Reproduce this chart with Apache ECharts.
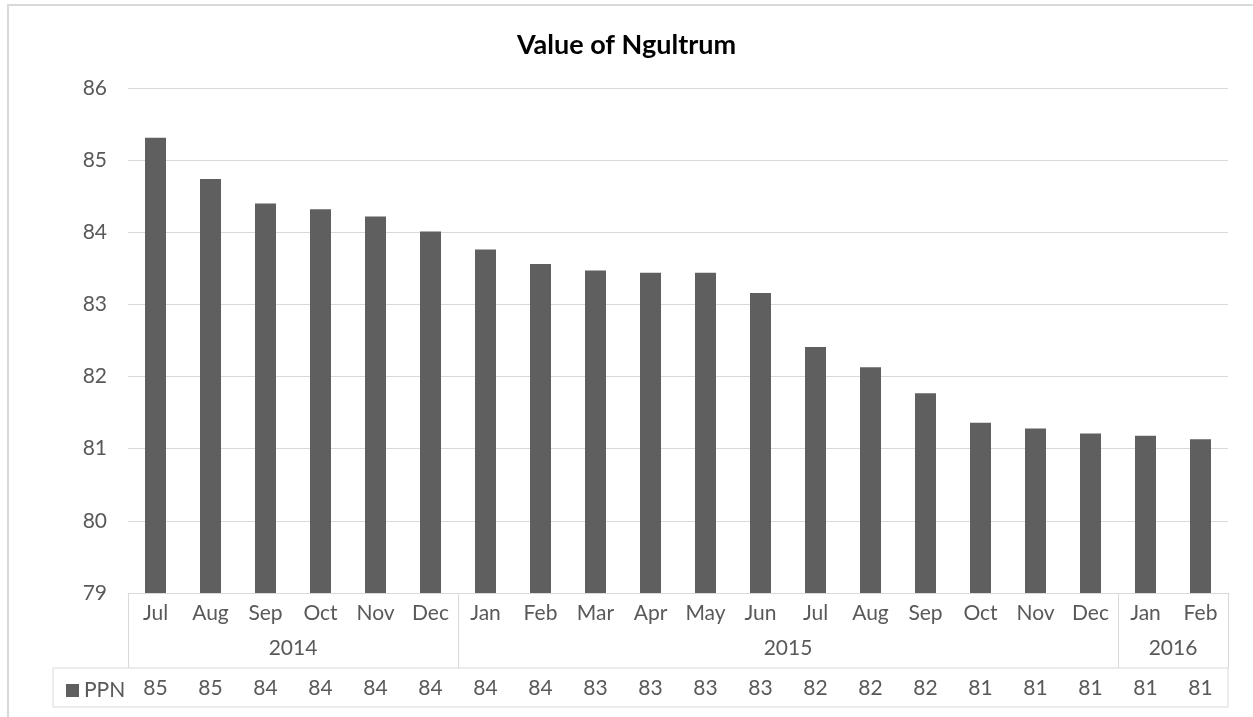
<!DOCTYPE html>
<html>
<head>
<meta charset="utf-8">
<title>Value of Ngultrum</title>
<script src="https://cdn.jsdelivr.net/npm/echarts@6/dist/echarts.min.js"></script>
<style>
  html, body { margin: 0; padding: 0; background: #fff; }
  #main { width: 1253px; height: 717px; }
</style>
</head>
<body>
<div id="main"></div>
<script>
  // months along the axis
  var months = ['Jul', 'Aug', 'Sep', 'Oct', 'Nov', 'Dec', 'Jan', 'Feb', 'Mar', 'Apr', 'May', 'Jun',
    'Jul', 'Aug', 'Sep', 'Oct', 'Nov', 'Dec', 'Jan', 'Feb']
  // year groups and how many months each spans
  var years = ['2014', '2015', '2016']
  var yearSpans = [6, 12, 2]
  // PPN values
  var ppn = [85.31, 84.74, 84.40, 84.32, 84.22, 84.01, 83.76, 83.56, 83.47, 83.44, 83.44, 83.16,
    82.41, 82.13, 81.77, 81.36, 81.28, 81.21, 81.18, 81.13]
  var yTicks = [79, 80, 81, 82, 83, 84, 85, 86]

  var FONT = 'Lato'
  var GREY = '#595959'
  var LINE = '#d9d9d9'

  // group boundaries and centres for the year row
  var yearEdges = [0]
  var yearMids = []
  yearSpans.forEach(function (s, i) {
    yearMids.push(yearEdges[i] + s / 2)
    yearEdges.push(yearEdges[i] + s)
  })
  var tableLabels = ppn.map(function (v) { return String(Math.round(v)) })

  var chart = echarts.init(document.getElementById('main'))
  var option = {
    animation: false,
    title: {
      text: 'Value of Ngultrum',
      left: 'center',
      top: 27,
      textStyle: { fontFamily: FONT, fontSize: 27, fontWeight: 'bold', color: '#000' }
    },
    legend: {
      data: ['PPN'],
      left: 61,
      top: 675,
      icon: 'rect',
      itemWidth: 13,
      itemHeight: 13,
      selectedMode: false,
      textStyle: { fontFamily: FONT, fontSize: 21, color: GREY }
    },
    grid: { left: 128, right: 25, top: 88, bottom: 124 },
    xAxis: [{
      type: 'category',
      data: months,
      position: 'bottom',
      axisLine: { lineStyle: { color: LINE } },
      axisTick: { length: 39, lineStyle: { color: LINE } },
      axisLabel: { fontFamily: FONT, fontSize: 21, color: GREY, margin: 10, interval: 0 }
    }, {
      type: 'value',
      min: 0,
      max: yearEdges[yearEdges.length - 1],
      position: 'bottom',
      splitLine: { show: false },
      axisLine: { show: false },
      axisTick: { show: true, length: 75, customValues: yearEdges, lineStyle: { color: LINE } },
      axisLabel: {
        customValues: yearMids,
        fontFamily: FONT,
        fontSize: 21,
        color: GREY,
        margin: 45,
        formatter: function (v) {
          var i = yearMids.indexOf(v)
          return i >= 0 ? years[i] : ''
        }
      }
    }, {
      type: 'category',
      data: tableLabels,
      position: 'bottom',
      offset: 75,
      axisLine: { show: false },
      axisTick: { length: 39, lineStyle: { color: LINE } },
      axisLabel: { fontFamily: FONT, fontSize: 21, color: GREY, margin: 10, interval: 0 }
    }],
    yAxis: {
      type: 'value',
      min: yTicks[0],
      max: yTicks[yTicks.length - 1],
      interval: 1,
      axisLine: { show: false },
      axisTick: { show: false },
      splitLine: { lineStyle: { color: LINE } },
      axisLabel: { fontFamily: FONT, fontSize: 21, color: GREY, margin: 21 }
    },
    series: [{
      name: 'PPN',
      type: 'bar',
      xAxisIndex: 0,
      data: ppn,
      barWidth: 21,
      itemStyle: { color: '#5f5f5f' }
    }],
    graphic: [{
      type: 'rect',
      shape: { x: 8, y: 5, width: 1260, height: 730 },
      style: { fill: 'none', stroke: LINE, lineWidth: 2 },
      silent: true
    }, {
      type: 'rect',
      shape: { x: 53, y: 668, width: 1175, height: 39 },
      style: { fill: 'none', stroke: LINE, lineWidth: 1 },
      silent: true
    }]
  }
  chart.setOption(option)
  window.addEventListener('resize', function () {
    chart.resize()
  })
</script>
</body>
</html>
